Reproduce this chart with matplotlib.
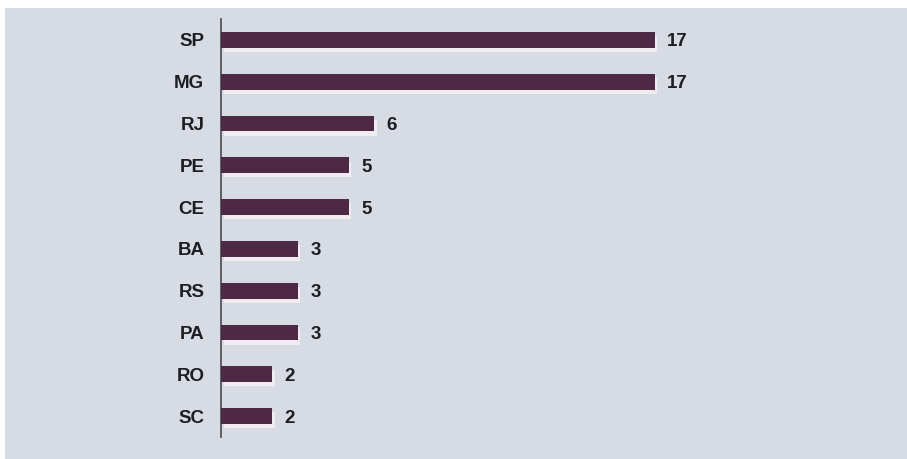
import matplotlib
matplotlib.use('Agg')
import matplotlib.pyplot as plt
import matplotlib.patheffects as pe
from matplotlib.patches import Rectangle
import numpy as np

estados = ['SP', 'MG', 'RJ', 'PE', 'CE', 'BA', 'RS', 'PA', 'RO', 'SC']
quantidade = [17, 17, 6, 5, 5, 3, 3, 3, 2, 2]

plt.rcParams['font.family'] = ['Liberation Sans', 'DejaVu Sans']

W, H = 907, 459
fig = plt.figure(figsize=(W / 100, H / 100), dpi=100, facecolor='white')

# fundo cinza-azulado com borda branca no topo e a esquerda
fig.patches.append(Rectangle((5 / W, 0), 1 - 5 / W, 1 - 8 / H, transform=fig.transFigure,
                             facecolor='#d7dbe3', edgecolor='none', zorder=-5))

esq, topo, base = 221, 19, 437
escala = 25.5  # pixels por unidade
xmax = 25
ax = fig.add_axes([esq / W, (H - base) / H, xmax * escala / W, (base - topo) / H])
ax.set_facecolor('none')
ax.set_zorder(2)

y = np.arange(len(estados))
barras = ax.barh(y, quantidade, height=0.38, color='#4e2946', zorder=3)
for b in barras:
    b.set_path_effects([pe.SimplePatchShadow(offset=(2, -3), shadow_rgbFace='#f3eef3', alpha=0.95),
                        pe.Normal()])

for yi, v in zip(y, quantidade):
    ax.text(v + 0.5, yi, str(v), va='center_baseline', ha='left', fontsize=13.5,
            fontweight='bold', color='#1e1e22')

ax.set_xlim(0, xmax)
ax.set_ylim(len(estados) - 0.5, -0.5)
ax.set_yticks(y)
ax.set_yticklabels(estados, fontsize=13.5, fontweight='bold', color='#1e1e22')
ax.tick_params(axis='y', length=0, pad=12)
ax.set_xticks([])

for s in ['top', 'right', 'bottom']:
    ax.spines[s].set_visible(False)
ax.spines['left'].set_color('#4a4a50')
ax.spines['left'].set_linewidth(1.2)

fig.savefig('out.png', dpi=100, facecolor='white')
